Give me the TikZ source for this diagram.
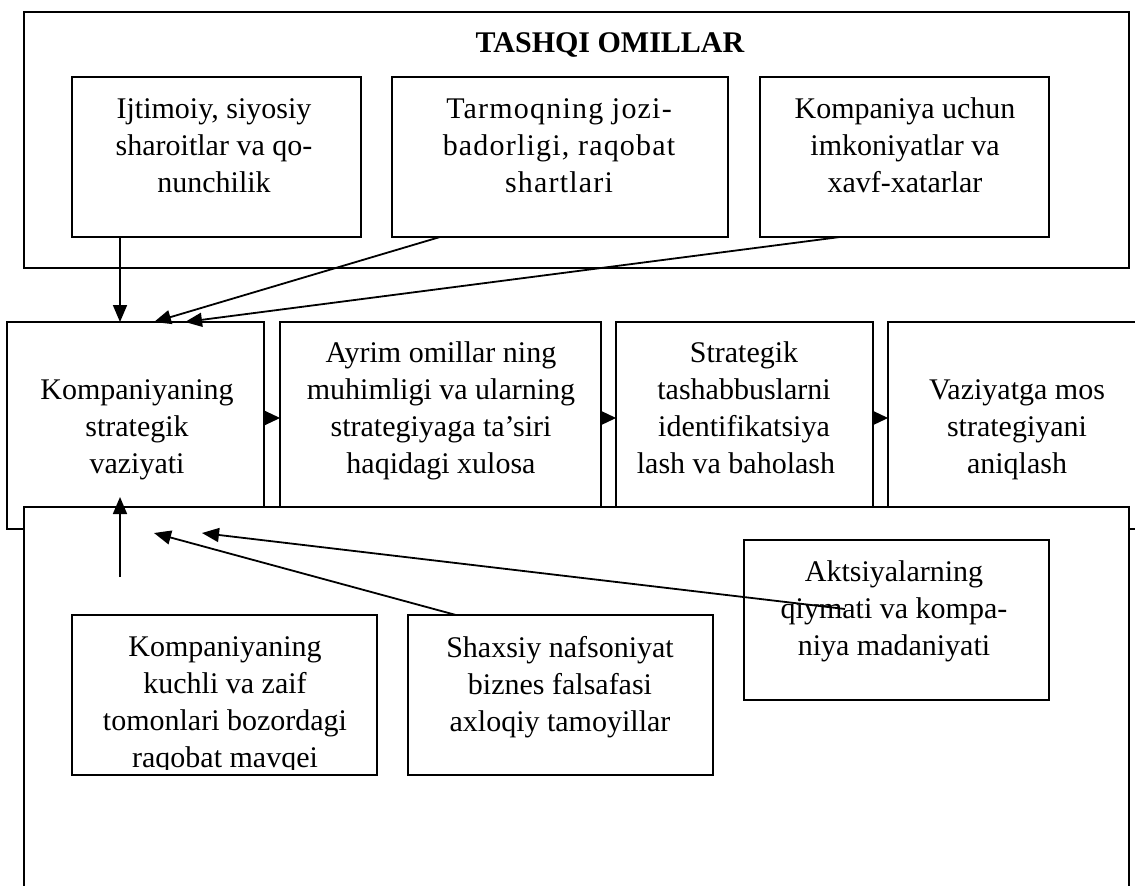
\documentclass[tikz,border=0pt]{standalone}
\usepackage{fontspec}
\setmainfont{Liberation Serif}
\newfontfamily\spacedfont[LetterSpace=4]{Liberation Serif}
\usetikzlibrary{arrows.meta}
\begin{document}
\begin{tikzpicture}[x=1pt,y=-1pt,
  frame/.style={draw, line width=1.6pt, fill=white, inner sep=0pt, outer sep=0pt},
  lbl/.style={align=center, inner sep=0pt, font=\fontsize{30}{37}\selectfont},
  link/.style={line width=1.8pt, -{Triangle[length=17pt,width=14pt]}},
  flow/.style={line width=1pt, -{Triangle[length=16pt,width=15pt]}}
]
\clip (0,0) rectangle (1135,886);

% external factors
\node[frame, minimum width=1105pt, minimum height=256pt] (ext) at (576.5,140) {};
\node[font=\fontsize{30}{37}\selectfont\bfseries, anchor=base, inner sep=0pt] (title) at (610,52) {TASHQI OMILLAR};
\node[frame, minimum width=289pt, minimum height=160pt] (e1) at (216.5,157) {};
\node[frame, minimum width=336pt, minimum height=160pt] (e2) at (560,157) {};
\node[frame, minimum width=289pt, minimum height=160pt] (e3) at (904.5,157) {};
\node[lbl] (te1) at (214,147.6) {\strut Ijtimoiy, siyosiy\\\strut sharoitlar va qo-\\\strut nunchilik};
\node[lbl, font=\spacedfont\fontsize{30}{37}\selectfont] (te2) at (559,147.6) {\strut Tarmoqning jozi-\\\strut badorligi, raqobat\\\strut shartlari};
\node[lbl] (te3) at (905,147.6) {\strut Kompaniya uchun\\\strut imkoniyatlar va\\\strut xavf-xatarlar};

% main chain
\node[frame, minimum width=257pt, minimum height=207pt] (A) at (135.5,425.5) {};
\node[frame, minimum width=321pt, minimum height=207pt] (B) at (440.5,425.5) {};
\node[frame, minimum width=257pt, minimum height=207pt] (C) at (744.5,425.5) {};
\node[frame, minimum width=258pt, minimum height=207pt] (D) at (1017,425.5) {};
\node[lbl] (tA) at (137,428.6) {\strut Kompaniyaning\\\strut strategik\\\strut vaziyati};
\node[lbl] (tB) at (441,410.1) {\strut Ayrim omillar ning\\\strut muhimligi va ularning\\\strut strategiyaga ta’siri\\\strut haqidagi xulosa};
\node[lbl] (tC) at (744,410.1) {\strut Strategik\\\strut tashabbuslarni\\\strut identifikatsiya\\\strut lash va baholash\hspace*{16pt}};
\node[lbl] (tD) at (1017,428.6) {\strut Vaziyatga mos\\\strut strategiyani\\\strut aniqlash};

% internal factors
\node[frame, minimum width=1105pt, minimum height=398pt] (int) at (576.5,706) {};
\node[frame, minimum width=305pt, minimum height=160pt] (L1) at (224.5,695) {};
\node[frame, minimum width=305pt, minimum height=160pt] (L2) at (560.5,695) {};
\node[frame, minimum width=305pt, minimum height=160pt] (L3) at (896.5,620) {};
\begin{scope}
  \clip (L1.north west) rectangle ([yshift=6pt]L1.south east);
  \node[lbl] (tL1) at (225,704.6) {\strut Kompaniyaning\\\strut kuchli va zaif\\\strut tomonlari bozordagi\\\strut raqobat mavqei};
\end{scope}
\node[lbl] (tL2) at (560,686.6) {\strut Shaxsiy nafsoniyat\\\strut biznes falsafasi\\\strut axloqiy tamoyillar};
\node[lbl] (tL3) at (894,611.1) {\strut Aktsiyalarning\\\strut qiymati va kompa-\\\strut niya madaniyati};

% connectors into the strategic situation
\draw[link] ([xshift=48pt]e1.south west) -- ([xshift=113pt]A.north west);
\draw[link] ([xshift=48pt]e2.south west) -- ([xshift=147pt]A.north west);
\draw[link] ([xshift=80pt]e3.south west) -- ([xshift=178pt]A.north west);
\draw[link] ([shift={(48pt,38pt)}]L1.north west) -- ([shift={(113pt,32pt)}]A.south west);
\draw[link] ([xshift=48pt]L2.north west) -- ([shift={(147pt,-4pt)}]A.south west);
\draw[link] ([shift={(101pt,-69pt)}]L3.north west) -- ([shift={(195pt,-4pt)}]A.south west);

% chain steps
\draw[flow] ([yshift=7.5pt]A.east) -- ([yshift=7.5pt]B.west);
\draw[flow] ([yshift=7.5pt]B.east) -- ([yshift=7.5pt]C.west);
\draw[flow] ([yshift=7.5pt]C.east) -- ([yshift=7.5pt]D.west);
\end{tikzpicture}
\end{document}
